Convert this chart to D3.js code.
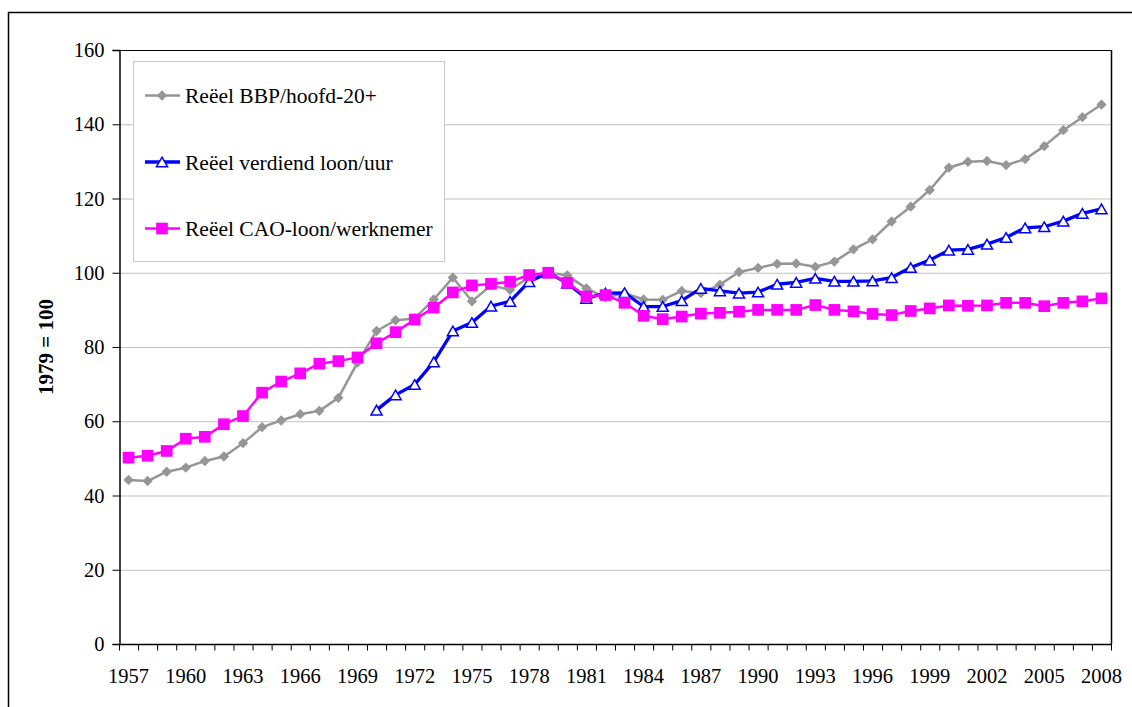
<!DOCTYPE html>
<html><head><meta charset="utf-8">
<script src="https://cdn.jsdelivr.net/npm/d3@7"></script>
<style>body{margin:0;background:#fff}svg{display:block}
svg text{font-family:"Liberation Serif","Times New Roman",Times,"DejaVu Serif",serif !important}</style>
</head><body>
<svg id="c" width="1132" height="707"></svg>
<script>
const years = d3.range(1957, 2009);
const tickYears = [1957,1960,1963,1966,1969,1972,1975,1978,1981,1984,1987,1990,1993,1996,1999,2002,2005,2008];
const yTicks = [0,20,40,60,80,100,120,140,160];
const seriesNames = ["Reëel BBP/hoofd-20+","Reëel verdiend loon/uur","Reëel CAO-loon/werknemer"];
// 1957..2008
const bbp = [44.2,43.9,46.4,47.5,49.3,50.5,54.1,58.4,60.2,61.9,62.8,66.3,75.8,84.3,87.2,87.7,92.8,98.7,92.3,96.6,95.4,98.8,100,99.3,95.8,93.3,94.5,92.8,92.7,95.1,94.5,96.8,100.2,101.3,102.4,102.5,101.6,103.0,106.3,109.0,113.8,117.8,122.3,128.3,129.9,130.1,129.0,130.6,134.1,138.4,141.9,145.3];
// 1970..2008
const verdiend = [63.0,67.1,69.9,76.0,84.3,86.6,91.0,92.3,97.6,100,97.2,93.1,94.5,94.6,90.9,90.9,92.5,95.8,95.1,94.5,94.8,96.9,97.4,98.5,97.7,97.7,97.8,98.7,101.4,103.4,106.1,106.3,107.7,109.5,112.1,112.4,113.9,116.0,117.2];
const verdiendStart = 1970;
// 1957..2008
const cao = [50.2,50.7,52.0,55.3,55.8,59.2,61.4,67.7,70.7,72.9,75.5,76.2,77.2,81.0,84.0,87.4,90.6,94.7,96.6,97.0,97.6,99.4,100,97.3,93.6,94.0,91.9,88.4,87.5,88.2,89.0,89.2,89.5,90.0,90.0,90.0,91.3,90.0,89.6,88.9,88.6,89.7,90.4,91.2,91.1,91.2,91.9,91.9,91.0,91.9,92.3,93.1];

const FONT = '"Liberation Serif","Times New Roman",Times,"DejaVu Serif",serif';
const svg = d3.select("#c");
const L = 119, R = 1111, T = 50, B = 644;

svg.append("rect").attr("x",8.5).attr("y",12.5).attr("width",1140).attr("height",720)
  .attr("fill","none").attr("stroke","#000").attr("stroke-width",1.5);

const x = d3.scaleBand().domain(years).range([L, R]);
const y = d3.scaleLinear().domain([0,160]).range([B, T]);
const cx = d => x(d) + x.bandwidth()/2;

// gridlines
svg.append("g").selectAll("line").data(yTicks.filter(v=>v>0)).join("line")
  .attr("x1",L).attr("x2",R).attr("y1",d=>y(d)+0.5).attr("y2",d=>y(d)+0.5)
  .attr("stroke","#c0c0c0").attr("stroke-width",1.2);

// plot border top/right
svg.append("line").attr("x1",L).attr("x2",R).attr("y1",T+0.5).attr("y2",T+0.5).attr("stroke","#000").attr("stroke-width",1.2);
svg.append("line").attr("x1",R+0.5).attr("x2",R+0.5).attr("y1",T).attr("y2",B).attr("stroke","#000").attr("stroke-width",1.5);

// y axis
const ya = svg.append("g").attr("transform",`translate(${L+0.5},0)`)
  .call(d3.axisLeft(y).tickValues(yTicks).tickSize(7).tickPadding(8).tickFormat(d3.format("d")));
ya.attr("font-family",FONT).attr("font-size",20.5);
ya.select(".domain").attr("stroke","#000").attr("stroke-width",1.5);
ya.selectAll("line").attr("stroke","#000");
ya.selectAll("text").attr("fill","#000").attr("font-family",FONT).attr("font-size",20.5);

// x axis
const xa = svg.append("g").attr("transform",`translate(0,${B+0.5})`);
xa.append("line").attr("x1",L).attr("x2",R+1).attr("stroke","#000").attr("stroke-width",1.5);
const edges = years.map(d=>x(d)).concat([R]);
xa.selectAll("line.t").data(edges).join("line").attr("class","t")
  .attr("x1",d=>d+0.5).attr("x2",d=>d+0.5).attr("y1",0).attr("y2",6).attr("stroke","#000");
xa.selectAll("text").data(tickYears).join("text")
  .attr("x",d=>cx(d)).attr("y",38.5).attr("text-anchor","middle")
  .attr("font-family",FONT).attr("font-size",20.5).attr("fill","#000").text(d=>d);

// y title
svg.append("text").attr("transform",`translate(53,${(T+B)/2}) rotate(-90)`)
  .attr("text-anchor","middle").attr("font-family",FONT).attr("font-size",21).attr("font-weight","bold").text("1979 = 100");

const line = d3.line().x(d=>cx(d[0])).y(d=>y(d[1]));
const bbpData = years.map((yr,i)=>[yr,bbp[i]]);
const caoData = years.map((yr,i)=>[yr,cao[i]]);
const verData = verdiend.map((v,i)=>[verdiendStart+i,v]);

const gray = "#969696", blue = "#0000ff", mag = "#ff00ff";
const diamond = d3.symbol().type(d3.symbolDiamond2).size(68);
const square = d3.symbol().type(d3.symbolSquare).size(136);
const TRI = 88;
const tri = d3.symbol().type(d3.symbolTriangle2).size(TRI);
const triShift = Math.sqrt(TRI)*0.6824/4;

function drawSeries(data, color, width, sym, fill){
  const g = svg.append("g");
  g.append("path").datum(data).attr("d",line).attr("fill","none").attr("stroke",color).attr("stroke-width",width).attr("stroke-linejoin","round");
  g.selectAll("path.m").data(data).join("path").attr("class","m")
    .attr("d",sym).attr("transform",d=>`translate(${cx(d[0])},${y(d[1])+(fill==="#fff"?triShift:0)})`)
    .attr("fill",fill).attr("stroke",color).attr("stroke-width",fill==="#fff"?1.5:0);
}
drawSeries(bbpData, gray, 2.5, diamond, gray);
drawSeries(verData, blue, 3.3, tri, "#fff");
drawSeries(caoData, mag, 2.5, square, mag);

// legend
const lg = svg.append("g");
lg.append("rect").attr("x",133.5).attr("y",61.5).attr("width",311).attr("height",200).attr("fill","#fff").attr("stroke","#c8c8c8").attr("stroke-width",1);
const legItems = [
  {name:seriesNames[0], color:gray, sym:diamond, fill:gray, w:2.5},
  {name:seriesNames[1], color:blue, sym:tri, fill:"#fff", w:3.3},
  {name:seriesNames[2], color:mag, sym:square, fill:mag, w:2.5}
];
legItems.forEach((it,i)=>{
  const yy = 95.5 + i*66.5;
  lg.append("line").attr("x1",145).attr("x2",180).attr("y1",yy).attr("y2",yy).attr("stroke",it.color).attr("stroke-width",it.w);
  lg.append("path").attr("d",it.sym).attr("transform",`translate(162,${yy+(it.fill==="#fff"?triShift:0)})`).attr("fill",it.fill).attr("stroke",it.color).attr("stroke-width",it.fill==="#fff"?1.5:0);
  lg.append("text").attr("x",185).attr("y",yy+7.5).attr("font-family",FONT).attr("font-size",21.5).attr("fill","#000").text(it.name);
});
</script>
</body></html>
